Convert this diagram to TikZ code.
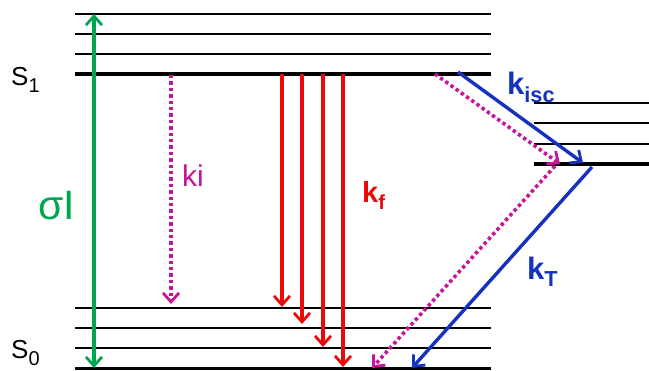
\documentclass[tikz,border=0pt]{standalone}
\usepackage{fontspec}
\setmainfont{Liberation Sans}
\usetikzlibrary{arrows.meta}
\definecolor{cgreen}{RGB}{0,166,80}
\definecolor{cmag}{RGB}{200,20,150}
\definecolor{cred}{RGB}{235,10,10}
\definecolor{cblue}{RGB}{20,50,190}
\tikzset{
  lvl/.style={line width=2.4pt,black},
  lvlb/.style={line width=3.2pt,black},
  tip/.style={-{Straight Barb[length=9pt,width=16pt,line width=2.8pt]}},
  greenarr/.style={cgreen,line width=3.4pt,{Straight Barb[length=9pt,width=16pt,line width=2.8pt]}-{Straight Barb[length=9pt,width=16pt,line width=2.8pt]}},
  redarr/.style={cred,line width=3.4pt,tip},
  bluearr/.style={cblue,line width=3.4pt,tip},
  magarr/.style={cmag,line width=3.6pt,dash pattern=on 3.4pt off 3pt,tip},
  lab/.style={inner sep=0pt,anchor=base west},
}
\newcommand{\lvsub}[1]{\raisebox{-7pt}{\fontsize{20}{20}\selectfont #1}}
\begin{document}
\begin{tikzpicture}[x=1pt,y=-1pt]
\useasboundingbox (0,0) rectangle (649,371);
% S1 manifold
\foreach \yy in {14,34,54} \draw[lvl] (75,\yy) -- (491,\yy);
\draw[lvlb] (75,74) -- (491,74);
% S0 manifold
\foreach \yy in {308,328,348} \draw[lvl] (75,\yy) -- (491,\yy);
\draw[lvlb] (75,368.5) -- (491,368.5);
% triplet manifold
\foreach \yy in {103,123,144} \draw[lvl] (534,\yy) -- (649,\yy);
\draw[lvlb] (534,164) -- (649,164);
% coordinates
\coordinate (gTop) at (94,14);
\coordinate (gBot) at (94,368);
\coordinate (kiS) at (171,75);
\coordinate (kiE) at (171,304);
\coordinate (r1S) at (282,74); \coordinate (r1E) at (282,307);
\coordinate (r2S) at (302,74); \coordinate (r2E) at (302,324);
\coordinate (r3S) at (323,74); \coordinate (r3E) at (323,347);
\coordinate (r4S) at (343,74); \coordinate (r4E) at (343,367);
\coordinate (miS) at (435,74); \coordinate (miE) at (560,164);
\coordinate (biS) at (458,72); \coordinate (biE) at (583,163);
\coordinate (mtS) at (555,166); \coordinate (mtE) at (372,368);
\coordinate (btS) at (592,167); \coordinate (btE) at (412,368);
% arrows
\draw[greenarr] (gTop) -- (gBot);
\draw[magarr] (kiS) -- (kiE);
\draw[redarr] (r1S) -- (r1E);
\draw[redarr] (r2S) -- (r2E);
\draw[redarr] (r3S) -- (r3E);
\draw[redarr] (r4S) -- (r4E);
\draw[magarr] (miS) -- (miE);
\draw[bluearr] (biS) -- (biE);
\draw[magarr] (mtS) -- (mtE);
\draw[bluearr] (btS) -- (btE);
% labels
\node[lab,font=\fontsize{26}{26}\selectfont] (s1) at (11,86) {S\lvsub{1}};
\node[lab,font=\fontsize{26}{26}\selectfont] (s0) at (11,359) {S\lvsub{0}};
\node[lab,text=cgreen,font=\fontsize{41}{41}\selectfont] (sig) at (38,220) {σI};
\node[lab,text=cmag,font=\fontsize{30}{30}\selectfont] (ki) at (182,187) {ki};
\node[lab,text=cred,font=\fontsize{29}{29}\selectfont\bfseries] (kf) at (362,203) {k\textsubscript{f}};
\node[lab,text=cblue,font=\fontsize{31}{31}\selectfont\bfseries] (kisc) at (507,95) {k\textsubscript{isc}};
\node[lab,text=cblue,font=\fontsize{31}{31}\selectfont\bfseries] (kT) at (527,280) {k\textsubscript{T}};
\end{tikzpicture}
\end{document}
